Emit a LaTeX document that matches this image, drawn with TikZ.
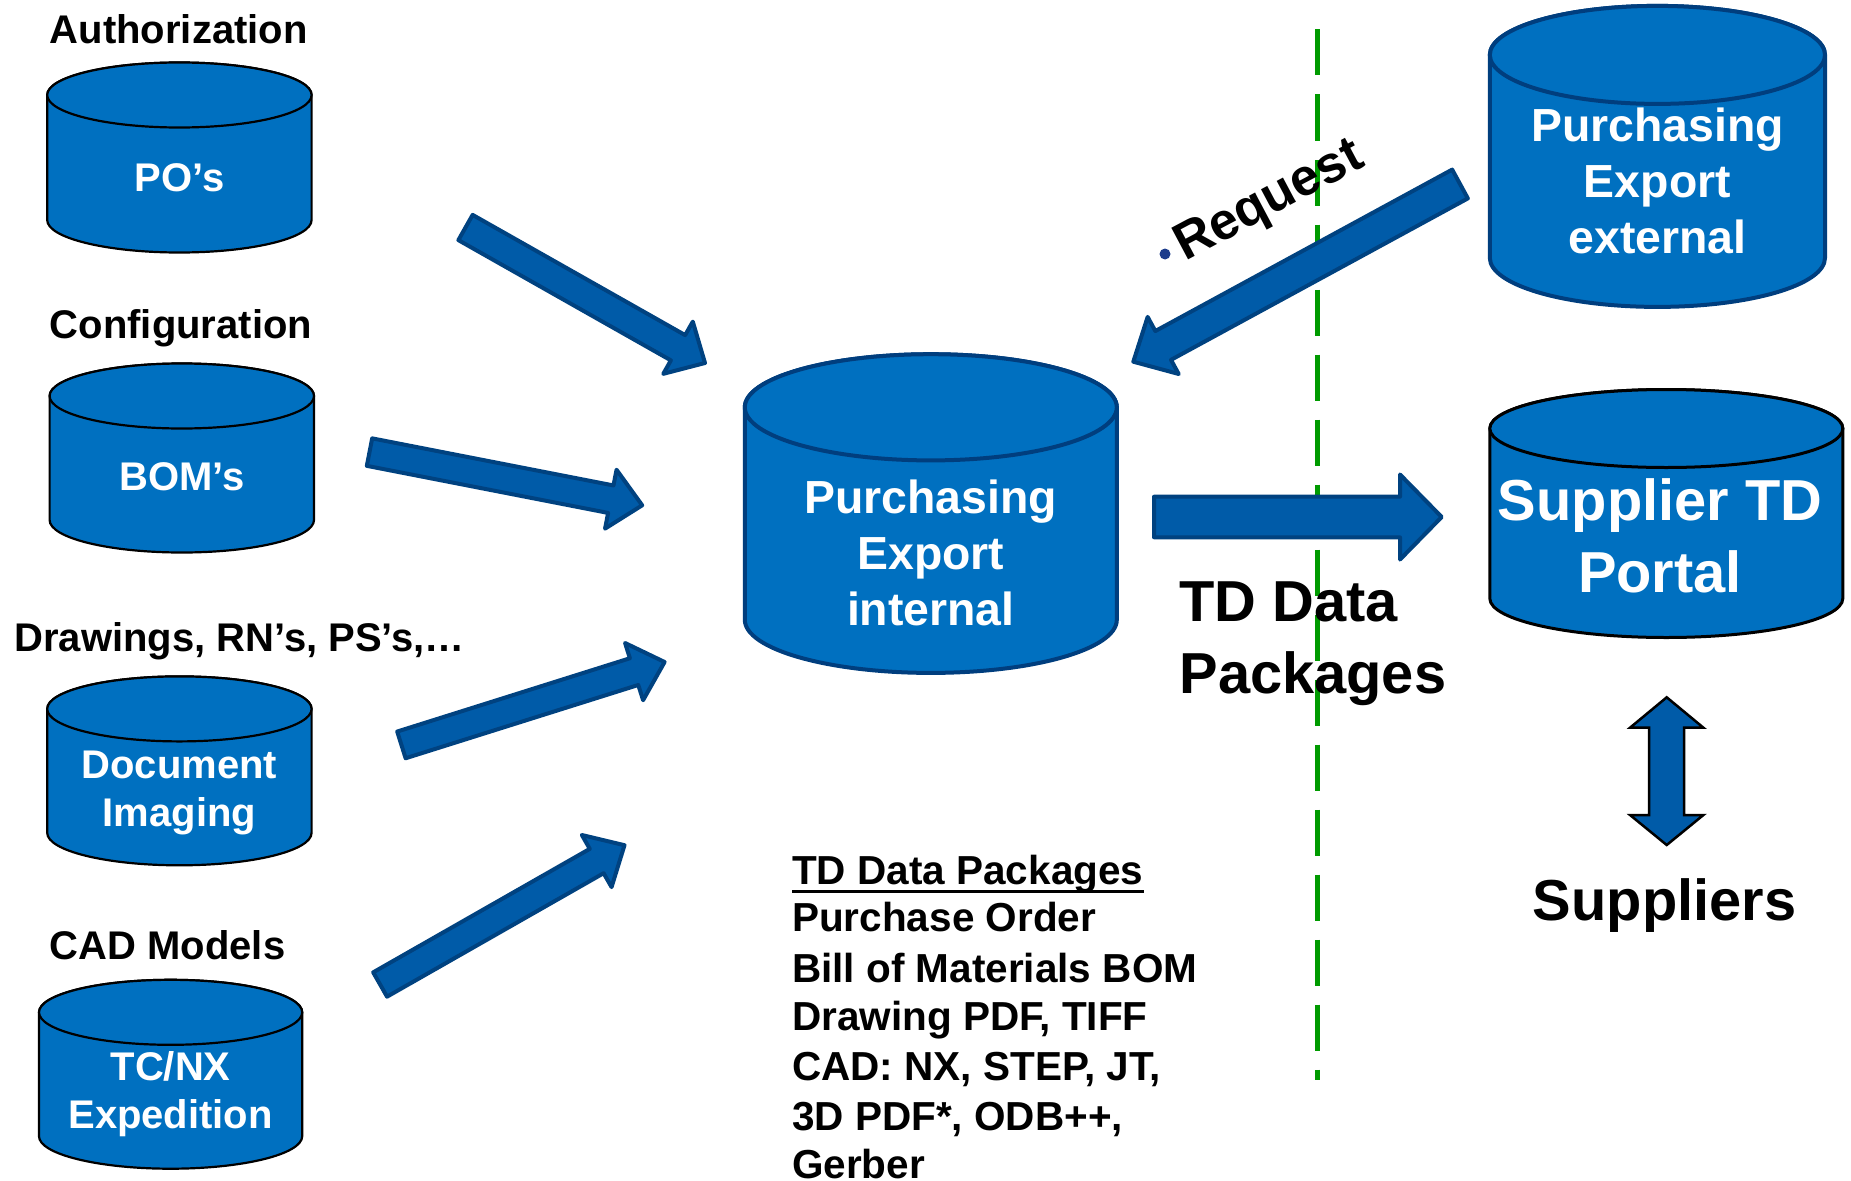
\documentclass[tikz,border=0pt]{standalone}
\usepackage{fontspec}
\setmainfont{Liberation Sans}
\usetikzlibrary{calc}
\definecolor{cylblue}{RGB}{0,112,192}
\definecolor{arrblue}{RGB}{0,91,168}
\definecolor{arredge}{RGB}{0,66,128}
\definecolor{cyledge}{RGB}{0,62,126}
\definecolor{dashgreen}{RGB}{0,155,0}
\definecolor{dotblue}{RGB}{28,60,140}
% cylinder: cx, rx, ytop, ybot, ry, style
\newcommand\cyl[6]{%
  \draw[#6] (#1-#2,#3) -- (#1-#2,#4)
     arc[start angle=180,end angle=0,x radius=#2,y radius=#5]
     -- (#1+#2,#3)
     arc[start angle=0,end angle=-180,x radius=#2,y radius=#5] -- cycle;
  \draw[#6] (#1,#3) ellipse[x radius=#2,y radius=#5];}
% block arrow: prefix, tail, tip, half shaft, half head, head length
\newcommand\blockarrow[6]{%
  \coordinate (#1b) at ($(#3)!#6pt!(#2)$);
  \draw[barrow] ($(#2)!#4pt!90:(#3)$) -- ($(#1b)!#4pt!90:(#3)$)
     -- ($(#1b)!#5pt!90:(#3)$) -- (#3) -- ($(#1b)!#5pt!-90:(#3)$)
     -- ($(#1b)!#4pt!-90:(#3)$) -- ($(#2)!#4pt!-90:(#3)$) -- cycle;}
\begin{document}
\begin{tikzpicture}[x=1pt,y=-1pt,
  cylblack/.style={fill=cylblue,draw=black,line width=2.2pt},
  cylthick/.style={fill=cylblue,draw=cyledge,line width=4pt},
  cylsup/.style={fill=cylblue,draw=black,line width=3pt},
  barrow/.style={fill=arrblue,draw=arredge,line width=4pt,line join=round},
  darrow/.style={fill=arrblue,draw=black,line width=2.5pt,line join=miter},
  lbl/.style={font=\fontsize{40}{48}\selectfont\bfseries,inner sep=0pt,anchor=base west},
  cyltxt/.style={text=white,font=\fontsize{40}{48.4}\selectfont\bfseries,inner sep=0pt,align=center},
  bigtxt/.style={text=white,font=\fontsize{46.4}{56}\selectfont\bfseries,inner sep=0pt,align=center},
  hugetxt/.style={font=\fontsize{57.8}{72}\selectfont\bfseries,inner sep=0pt},
  listtxt/.style={font=\fontsize{40.5}{49.3}\selectfont\bfseries,inner sep=0pt,anchor=base west},
  dashline/.style={draw=dashgreen,line width=4.5pt,dash pattern=on 46pt off 19pt}]
\useasboundingbox (0,0) rectangle (1851,1180);

% divider
\coordinate (dtop) at (1317.5,29.5);
\coordinate (dbot) at (1317.5,1080);
\draw[dashline] (dtop) -- (dbot);

% left sources
\node[lbl] (authlbl) at (49.6,43.8) {Authorization};
\cyl{179.4}{132.2}{95}{220}{32.5}{cylblack}
\node[cyltxt,anchor=base] (po) at (179.4,191.3) {PO’s};

\node[lbl] (conflbl) at (49.6,338.9) {Configuration};
\cyl{181.8}{132.2}{396}{520}{32.5}{cylblack}
\node[cyltxt,anchor=base] (bom) at (181.8,490) {BOM’s};

\node[lbl] (drwlbl) at (14.2,651.8) {Drawings, RN’s, PS’s,…};
\cyl{179.4}{132.2}{708.9}{832.8}{32.5}{cylblack}
\node[cyltxt] (doc) at (179.4,793.1) {Document\\Imaging};

\node[lbl] (cadlbl) at (49.6,959.9) {CAD Models};
\cyl{170.6}{131.6}{1012.3}{1136.2}{32.5}{cylblack}
\node[cyltxt] (tc) at (170.6,1094.1) {TC/NX\\Expedition};

% central
\cyl{930.8}{186}{407.3}{619.8}{53.1}{cylthick}
\node[bigtxt] (pint) at (930.8,553.3) {Purchasing\\Export\\internal};

% external
\cyl{1657.4}{167.6}{54.9}{257.9}{49}{cylthick}
\node[bigtxt] (pext) at (1657.4,180.9) {Purchasing\\Export\\external};

% supplier portal
\cyl{1666.3}{176.5}{428.5}{598.5}{39}{cylsup}
\node[hugetxt,text=white,align=center] (portal) at (1660,536.1) {Supplier TD\\Portal};

% arrows into central
\coordinate (a1t) at (465.5,227.5); \coordinate (a1h) at (705,363);
\blockarrow{a1}{a1t}{a1h}{14.5}{30}{31}
\coordinate (a2t) at (369.5,452.1); \coordinate (a2h) at (642.2,505.3);
\blockarrow{a2}{a2t}{a2h}{14}{30}{32}
\coordinate (a3t) at (401.4,744.9); \coordinate (a3h) at (664.6,662);
\blockarrow{a3}{a3t}{a3h}{14}{30}{32}
\coordinate (a4t) at (380.1,984.5); \coordinate (a4h) at (624.5,845.2);
\blockarrow{a4}{a4t}{a4h}{14}{30}{32}

% request arrow
\coordinate (rqt) at (1460,184); \coordinate (rqh) at (1133.3,361.7);
\blockarrow{rq}{rqt}{rqh}{16.4}{32.5}{34}
\fill[dotblue] (1165,254) circle[radius=5.5pt];
\node[font=\fontsize{52}{60}\selectfont\bfseries,inner sep=0pt,anchor=base west,rotate=28] (req) at (1185,262) {Request};

% TD data packages arrow
\coordinate (tdt) at (1154,517); \coordinate (tdh) at (1441.7,517);
\blockarrow{td}{tdt}{tdh}{20.3}{42.5}{41.7}
\node[hugetxt,align=left,anchor=west] (tdlbl) at (1179.3,643.7) {TD Data\\Packages};

% supplier double arrow
\coordinate (ut) at (1666.7,697.3); \coordinate (ub) at (1666.7,845);
\draw[darrow] (ut) -- (1703.4,727.7) -- (1684.2,727.7) -- (1684.2,815) -- (1703.4,815)
  -- (ub) -- (1630,815) -- (1649.2,815) -- (1649.2,727.7) -- (1630,727.7) -- cycle;
\node[hugetxt,anchor=base] (sup) at (1664.5,920.2) {Suppliers};

% list
\node[listtxt] (hdr) at (792,884.5) {TD Data Packages};
\draw[line width=2.4pt] ([yshift=-7pt]hdr.base west) -- ([yshift=-7pt]hdr.base east);
\node[listtxt] (l1) at (792,931.8) {Purchase Order};
\node[listtxt] (l2) at (792,982.5) {Bill of Materials BOM};
\node[listtxt] (l3) at (792,1030.9) {Drawing PDF, TIFF};
\node[listtxt] (l4) at (792,1080.5) {CAD: NX, STEP, JT,};
\node[listtxt] (l5) at (792,1130.1) {3D PDF*, ODB++,};
\node[listtxt] (l6) at (792,1178.5) {Gerber};
\end{tikzpicture}
\end{document}
